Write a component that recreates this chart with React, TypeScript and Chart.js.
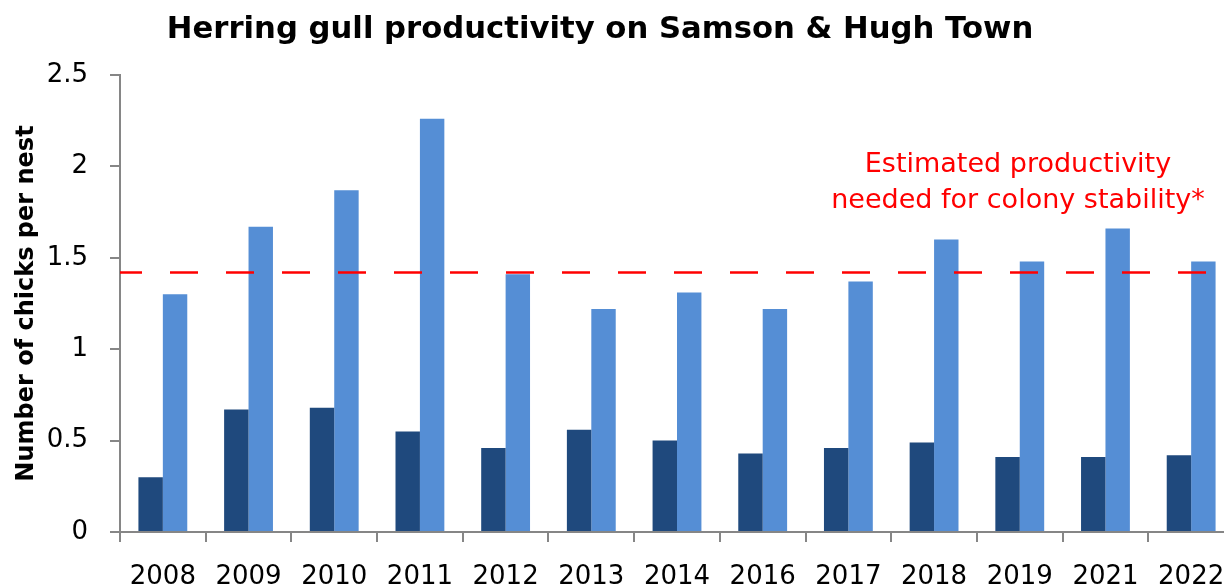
import React, { useEffect, useRef } from "react";
import { Chart, registerables } from "chart.js";

Chart.register(...registerables);

// ---- Data ----
const years = ["2008", "2009", "2010", "2011", "2012", "2013", "2014", "2016", "2017", "2018", "2019", "2021", "2022"];
const darkSeries = [0.30, 0.67, 0.68, 0.55, 0.46, 0.56, 0.50, 0.43, 0.46, 0.49, 0.41, 0.41, 0.42];
const lightSeries = [1.30, 1.67, 1.87, 2.26, 1.41, 1.22, 1.31, 1.22, 1.37, 1.60, 1.48, 1.66, 1.48];
const yTickValues = [0, 0.5, 1, 1.5, 2, 2.5];
const yTickLabels = ["0", "0.5", "1", "1.5", "2", "2.5"];
const stabilityThreshold = 1.42;
const chartTitle = "Herring gull productivity on Samson & Hugh Town";
const yAxisTitle = "Number of chicks per nest";
const annotationLines = ["Estimated productivity", "needed for colony stability*"];

const FONT = "'DejaVu Sans', sans-serif";
const CANVAS_W = 1234;
const CANVAS_H = 586;

export default function App() {
  const ref = useRef<HTMLCanvasElement>(null);

  useEffect(() => {
    if (!ref.current) return;

    const overlay = {
      id: "overlay",
      afterDatasetsDraw(chart: any) {
        const { ctx, chartArea, scales } = chart;
        const y = scales.y.getPixelForValue(stabilityThreshold);
        ctx.save();
        ctx.strokeStyle = "#FF0000";
        ctx.lineWidth = 2.5;
        ctx.setLineDash([28, 28]);
        ctx.lineDashOffset = 6;
        ctx.beginPath();
        ctx.moveTo(chartArea.left, y);
        ctx.lineTo(chart.width, y);
        ctx.stroke();
        ctx.restore();
      },
      afterDraw(chart: any) {
        const { ctx } = chart;
        ctx.save();
        ctx.fillStyle = "#000000";
        ctx.font = `bold 30.7px ${FONT}`;
        ctx.textAlign = "center";
        ctx.textBaseline = "alphabetic";
        ctx.fillText(chartTitle, 600, 38);

        ctx.fillStyle = "#FF0000";
        ctx.font = `27px ${FONT}`;
        ctx.fillText(annotationLines[0], 1018, 172);
        ctx.fillText(annotationLines[1], 1018, 208);
        ctx.restore();
      },
    };

    const chart = new Chart(ref.current, {
      type: "bar",
      data: {
        labels: years,
        datasets: [
          {
            label: "Samson",
            data: darkSeries,
            backgroundColor: "#1F497D",
            borderWidth: 0,
            categoryPercentage: 0.57,
            barPercentage: 1.0,
          },
          {
            label: "Hugh Town",
            data: lightSeries,
            backgroundColor: "#558ED5",
            borderWidth: 0,
            categoryPercentage: 0.57,
            barPercentage: 1.0,
          },
        ],
      },
      options: {
        animation: false,
        responsive: false,
        maintainAspectRatio: false,
        devicePixelRatio: 1,
        layout: { padding: { top: 75, right: 0, bottom: 0, left: 0 } },
        plugins: {
          legend: { display: false },
          title: { display: false },
          tooltip: { enabled: false },
        },
        scales: {
          x: {
            offset: true,
            grid: {
              display: true,
              drawOnChartArea: false,
              drawTicks: true,
              tickLength: 10,
              color: "#868686",
              lineWidth: 2,
              offset: true,
            },
            border: { display: true, color: "#868686", width: 2 },
            ticks: {
              color: "#000000",
              font: { family: FONT, size: 26 },
              padding: 20,
              maxRotation: 0,
              autoSkip: false,
            },
            afterFit: (s: any) => {
              s.height = 54;
              s.paddingLeft = 0;
              s.paddingRight = 0;
            },
          },
          y: {
            min: 0,
            max: 2.5,
            afterBuildTicks: (s: any) => {
              s.ticks = yTickValues.map((v) => ({ value: v }));
            },
            grid: {
              display: true,
              drawOnChartArea: false,
              drawTicks: true,
              tickLength: 10,
              color: "#868686",
              lineWidth: 2,
            },
            border: { display: true, color: "#868686", width: 2 },
            ticks: {
              color: "#000000",
              font: { family: FONT, size: 26 },
              padding: 22,
              callback: (v: any) => {
                const i = yTickValues.indexOf(Number(v));
                return i >= 0 ? yTickLabels[i] : "";
              },
            },
            title: {
              display: true,
              text: yAxisTitle,
              color: "#000000",
              font: { family: FONT, size: 24, weight: "bold" },
              padding: { top: 12, bottom: 0 },
            },
            afterFit: (s: any) => {
              s.width = 120;
            },
          },
        },
      },
      plugins: [overlay],
    });

    return () => chart.destroy();
  }, []);

  return (
    <div
      style={{
        position: "fixed",
        left: 0,
        top: 0,
        width: 1224,
        height: 586,
        overflow: "hidden",
        background: "#ffffff",
      }}
    >
      <canvas
        ref={ref}
        width={CANVAS_W}
        height={CANVAS_H}
        style={{ display: "block", width: CANVAS_W, height: CANVAS_H }}
      />
    </div>
  );
}
